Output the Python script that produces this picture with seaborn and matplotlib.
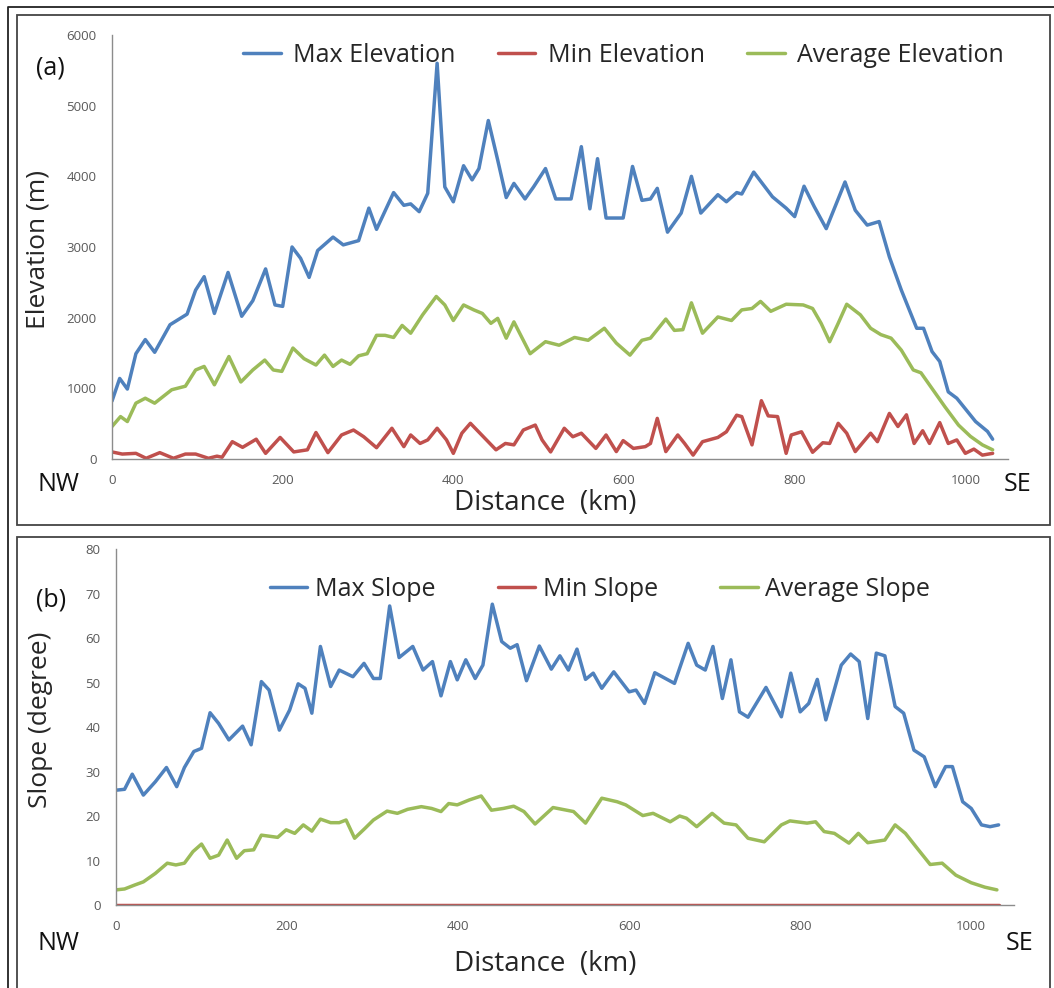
import matplotlib
matplotlib.use("Agg")
import matplotlib.pyplot as plt
from matplotlib.patches import Rectangle
from matplotlib.lines import Line2D
import seaborn as sns

# ---- data (distance in km) ----
max_elev_km = [0, 9, 18, 28, 39, 50, 68, 88, 98, 108, 120, 136, 152, 165, 180, 191, 200, 211, 221, 231,
               241, 259, 271, 289, 301, 310, 330, 342, 350, 360, 370, 381, 390, 400, 412, 422, 430, 441,
               452, 462, 471, 484, 494, 508, 520, 538, 550, 560, 569, 579, 599, 610, 621, 631, 639, 651,
               667, 679, 690, 710, 720, 732, 738, 752, 774, 790, 800, 811, 823, 837, 859, 871, 885, 899,
               911, 925, 943, 951, 961, 970, 980, 990, 1012, 1026, 1032]
max_elev_m = [820, 1140, 990, 1490, 1690, 1510, 1900, 2050, 2390, 2580, 2060, 2640, 2020, 2240, 2690, 2180,
              2160, 3000, 2840, 2570, 2950, 3140, 3030, 3090, 3550, 3250, 3770, 3590, 3610, 3500, 3760,
              5600, 3850, 3640, 4150, 3950, 4110, 4790, 4230, 3700, 3900, 3680, 3850, 4110, 3680, 3680,
              4420, 3540, 4250, 3410, 3410, 4140, 3660, 3680, 3830, 3210, 3480, 4000, 3480, 3740, 3640,
              3770, 3750, 4060, 3710, 3550, 3430, 3860, 3570, 3260, 3920, 3520, 3310, 3360, 2860, 2390,
              1850, 1850, 1520, 1380, 950, 860, 530, 390, 280]

min_elev_km = [0, 12, 28, 40, 56, 72, 86, 98, 113, 123, 129, 141, 153, 169, 180, 197, 213, 229, 239, 253,
               269, 283, 295, 310, 328, 342, 350, 361, 370, 381, 392, 400, 410, 420, 438, 450, 461, 471,
               482, 496, 504, 514, 530, 540, 550, 567, 579, 591, 599, 611, 625, 631, 639, 649, 663, 671,
               681, 692, 710, 720, 732, 738, 750, 761, 769, 780, 790, 796, 808, 821, 833, 841, 851, 861,
               871, 889, 897, 911, 921, 931, 940, 950, 958, 970, 980, 990, 1000, 1010, 1020, 1032]
min_elev_m = [100, 70, 80, 10, 90, 10, 70, 70, 10, 40, 25, 245, 165, 280, 80, 305, 100, 130, 375, 90,
              340, 410, 315, 160, 435, 175, 340, 220, 270, 435, 270, 80, 365, 505, 280, 130, 220, 200,
              410, 480, 270, 100, 435, 315, 365, 150, 340, 105, 260, 150, 175, 220, 575, 105, 340, 220,
              55, 245, 305, 385, 620, 600, 200, 825, 610, 600, 80, 340, 385, 95, 230, 220, 505, 365,
              105, 365, 245, 645, 460, 625, 220, 400, 220, 515, 220, 270, 80, 140, 55, 80]

avg_elev_km = [0, 10, 18, 28, 39, 50, 70, 86, 98, 108, 120, 137, 151, 165, 179, 189, 199, 212, 225, 239,
               249, 259, 269, 279, 289, 299, 310, 320, 330, 340, 350, 364, 380, 390, 400, 412, 424, 434,
               444, 452, 462, 471, 490, 508, 524, 542, 558, 577, 591, 607, 621, 631, 649, 659, 669, 679,
               692, 710, 726, 738, 750, 760, 772, 790, 810, 821, 831, 841, 851, 861, 877, 889, 901, 913,
               925, 939, 948, 962, 976, 992, 1006, 1020, 1032]
avg_elev_m = [460, 600, 530, 790, 860, 790, 980, 1030, 1260, 1310, 1050, 1450, 1090, 1260, 1400, 1260,
              1240, 1570, 1420, 1330, 1470, 1310, 1400, 1340, 1460, 1490, 1750, 1750, 1720, 1890, 1780,
              2040, 2300, 2180, 1960, 2180, 2110, 2060, 1920, 1990, 1710, 1940, 1490, 1660, 1610, 1720,
              1680, 1850, 1640, 1470, 1680, 1710, 1980, 1820, 1830, 2210, 1780, 2010, 1960, 2110, 2130,
              2230, 2090, 2190, 2180, 2130, 1920, 1660, 1920, 2190, 2040, 1850, 1760, 1710, 1540, 1260,
              1220, 980, 740, 480, 320, 200, 130]

max_slope_km = [0, 10, 19, 32, 46, 59, 71, 80, 91, 100, 110, 120, 132, 148, 158, 170, 179, 191, 203, 213,
                221, 229, 239, 251, 261, 277, 290, 301, 309, 320, 331, 347, 359, 370, 380, 391, 399, 409,
                420, 429, 440, 451, 461, 469, 480, 495, 509, 519, 529, 539, 549, 558, 568, 582, 600, 608,
                618, 630, 653, 669, 679, 689, 698, 709, 719, 729, 739, 760, 778, 789, 800, 810, 820, 830,
                848, 859, 869, 879, 889, 899, 911, 921, 933, 945, 958, 970, 978, 990, 1000, 1012, 1022, 1032]
max_slope_deg = [25.8, 26.0, 29.4, 24.7, 27.7, 30.9, 26.6, 30.9, 34.5, 35.2, 43.2, 40.8, 37.1, 40.2, 36.0,
                 50.2, 48.3, 39.3, 43.8, 49.7, 48.7, 43.1, 58.1, 49.1, 52.8, 51.3, 54.3, 50.9, 50.9, 67.2,
                 55.6, 58.1, 52.8, 54.7, 47.0, 54.7, 50.6, 55.1, 50.9, 53.9, 67.6, 59.2, 57.7, 58.5, 50.4,
                 58.2, 53.0, 56.0, 52.8, 57.5, 50.7, 52.1, 48.7, 52.4, 47.9, 48.3, 45.3, 52.2, 49.8, 58.8,
                 53.9, 52.8, 58.1, 46.4, 55.1, 43.4, 42.2, 48.9, 42.3, 52.1, 43.4, 45.3, 50.7, 41.6, 53.9,
                 56.4, 54.7, 41.9, 56.6, 56.0, 44.6, 43.1, 34.8, 33.3, 26.6, 31.1, 31.1, 23.2, 21.7, 18.0,
                 17.6, 18.0]

min_slope_km = [0, 1032]
min_slope_deg = [0, 0]

avg_slope_km = [0, 10, 22, 32, 46, 60, 70, 80, 90, 100, 110, 120, 130, 141, 150, 161, 170, 189, 199, 209,
                219, 229, 239, 251, 261, 269, 279, 291, 301, 317, 329, 341, 357, 369, 380, 389, 399, 413,
                427, 439, 453, 465, 477, 490, 511, 535, 549, 568, 586, 596, 616, 628, 648, 659, 667, 679,
                697, 711, 725, 739, 758, 778, 788, 808, 818, 828, 840, 857, 868, 879, 899, 911, 923, 937,
                952, 966, 982, 1000, 1016, 1030]
avg_slope_deg = [3.4, 3.6, 4.5, 5.2, 7.1, 9.4, 9.0, 9.4, 12.0, 13.7, 10.5, 11.2, 14.6, 10.5, 12.2, 12.4,
                 15.7, 15.2, 16.9, 16.1, 18.0, 16.6, 19.3, 18.5, 18.5, 19.1, 15.0, 17.2, 19.1, 21.1, 20.6,
                 21.5, 22.1, 21.7, 21.0, 22.8, 22.5, 23.6, 24.5, 21.3, 21.7, 22.2, 21.0, 18.2, 21.9, 21.0,
                 18.4, 24.0, 23.2, 22.5, 20.1, 20.6, 18.7, 20.0, 19.5, 17.6, 20.6, 18.4, 18.0, 15.0, 14.2,
                 18.0, 18.9, 18.4, 18.7, 16.5, 16.1, 13.9, 16.1, 14.0, 14.6, 18.0, 16.1, 12.7, 9.1, 9.4,
                 6.7, 5.0, 4.0, 3.4]

BLUE = "#4F81BD"
RED = "#C0504D"
GREEN = "#9BBB59"

sns.set_style("white")
plt.rcParams['font.family'] = ['Open Sans', 'DejaVu Sans']

W, H = 1054, 988
fig = plt.figure(figsize=(W / 100, H / 100), dpi=100)


def fx(px):
    return px / W


def fy(py):
    return 1 - py / H


# frames around the figure and the two panels
fig.add_artist(Line2D([fx(8), fx(8), fx(1054)], [fy(988), fy(7), fy(7)],
                      transform=fig.transFigure, color="#222222", lw=1.3))
fig.add_artist(Rectangle((fx(17), fy(525)), fx(1050) - fx(17), fy(15) - fy(525),
                         transform=fig.transFigure, fill=False, ec="#444444", lw=1.3))
fig.add_artist(Rectangle((fx(17), fy(1000)), fx(1050) - fx(17), fy(537) - fy(1000),
                         transform=fig.transFigure, fill=False, ec="#444444", lw=1.3))

ax1 = fig.add_axes([fx(112), fy(459), fx(1008) - fx(112), fy(35) - fy(459)])
ax2 = fig.add_axes([fx(116), fy(905), fx(1014) - fx(116), fy(549) - fy(905)])

line_kw = dict(linewidth=2.5, solid_joinstyle="round", solid_capstyle="round")

sns.lineplot(x=max_elev_km, y=max_elev_m, ax=ax1, color=BLUE, label="Max Elevation", **line_kw)
sns.lineplot(x=min_elev_km, y=min_elev_m, ax=ax1, color=RED, label="Min Elevation", **line_kw)
sns.lineplot(x=avg_elev_km, y=avg_elev_m, ax=ax1, color=GREEN, label="Average Elevation", **line_kw)

sns.lineplot(x=max_slope_km, y=max_slope_deg, ax=ax2, color=BLUE, label="Max Slope", **line_kw)
sns.lineplot(x=min_slope_km, y=min_slope_deg, ax=ax2, color=RED, label="Min Slope", **line_kw)
sns.lineplot(x=avg_slope_km, y=avg_slope_deg, ax=ax2, color=GREEN, label="Average Slope", **line_kw)

ax1.set_ylim(0, 6000)
ax1.set_yticks(range(0, 6001, 1000))
ax2.set_ylim(0, 80)
ax2.set_yticks(range(0, 81, 10))

for ax in (ax1, ax2):
    ax.set_xlim(0, 1050)
    ax.set_xticks(range(0, 1001, 200))
    sns.despine(ax=ax)
    for side in ("left", "bottom"):
        ax.spines[side].set_color("#8C8C8C")
        ax.spines[side].set_linewidth(1.0)
    ax.tick_params(axis="both", direction="out", length=5, width=1, color="#8C8C8C",
                   labelsize=9.5, labelcolor="#595959", pad=6)
    ax.set_facecolor("none")

ax1.set_xlabel("Distance  (km)", fontsize=20)
ax1.xaxis.set_label_coords(0.483, -0.071)
ax1.set_ylabel("Elevation (m)", fontsize=19)
ax1.yaxis.set_label_coords(-0.069, 0.493)

ax2.set_xlabel("Distance  (km)", fontsize=20)
ax2.xaxis.set_label_coords(0.478, -0.126)
ax2.set_ylabel("Slope (degree)", fontsize=19)
ax2.yaxis.set_label_coords(-0.070, 0.52)

ax1.legend(loc="upper center", bbox_to_anchor=(0.571, 1.034), ncol=3, frameon=False,
           fontsize=18, handlelength=1.5, handletextpad=0.5, columnspacing=1.7)
ax2.legend(loc="upper center", bbox_to_anchor=(0.539, 0.984), ncol=3, frameon=False,
           fontsize=18, handlelength=1.5, handletextpad=0.3, columnspacing=2.5)

txt = dict(fontsize=18, va="center", ha="left", color="#111111")
fig.text(fx(36), fy(68), "(a)", **txt)
fig.text(fx(38), fy(484), "NW", **txt)
fig.text(fx(1004), fy(484), "SE", **txt)
fig.text(fx(36), fy(600), "(b)", **txt)
fig.text(fx(38), fy(943), "NW", **txt)
fig.text(fx(1006), fy(943), "SE", **txt)

fig.savefig("out.png", dpi=100)
